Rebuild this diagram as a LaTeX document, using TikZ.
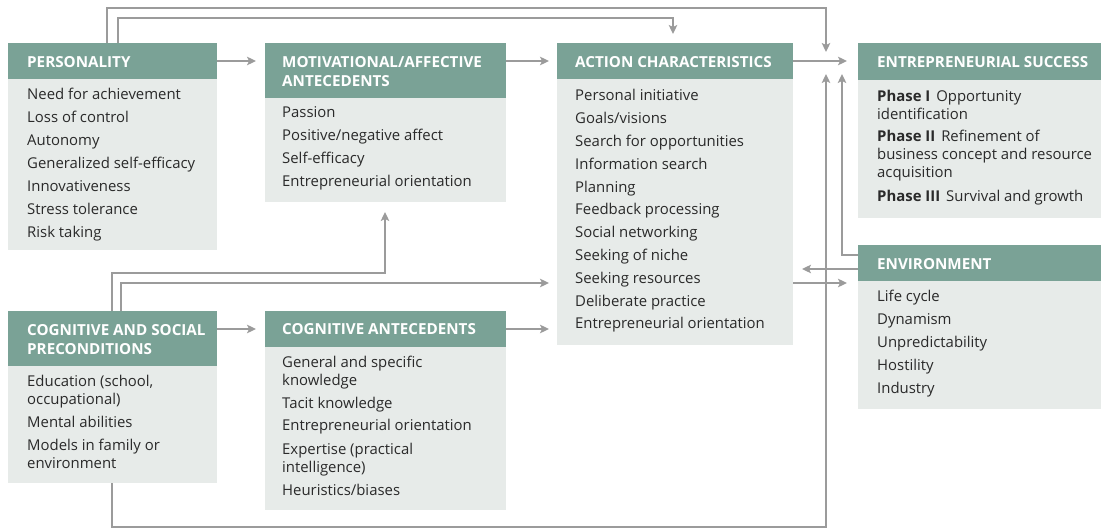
\documentclass[tikz,border=0pt]{standalone}
\usepackage{fontspec}
\setmainfont{Open Sans}
\usetikzlibrary{arrows.meta,calc}
\definecolor{headc}{HTML}{7AA296}
\definecolor{bodyc}{HTML}{E7EBE9}
\definecolor{arrc}{HTML}{9B9B9B}
\definecolor{txtc}{HTML}{2A2A2A}
\begin{document}
\begin{tikzpicture}[x=1pt,y=-1pt,
  body/.style={fill=bodyc, draw=none, inner sep=0pt, outer sep=0pt, anchor=north west},
  head/.style={fill=headc, draw=none, inner sep=0pt, outer sep=0pt, anchor=north west},
  htxt/.style={text=white, font=\fontsize{15.2}{19}\selectfont\bfseries, anchor=base west, inner sep=0pt},
  itxt/.style={text=txtc, font=\fontsize{14.9}{19}\selectfont, anchor=base west, inner sep=0pt},
  arr/.style={draw=arrc, line width=2.2pt, -{Stealth[length=9pt,width=8.5pt,inset=2pt]}},
]
\useasboundingbox (0,0) rectangle (1101,529);

% boxes
\node[body, minimum width=209pt, minimum height=171pt] (pers) at (8,79) {};
\node[head, minimum width=209pt, minimum height=36pt] (persh) at (8,43) {};
\node[body, minimum width=241pt, minimum height=104pt] (motiv) at (265,98) {};
\node[head, minimum width=241pt, minimum height=55pt] (motivh) at (265,43) {};
\node[body, minimum width=236pt, minimum height=266pt] (act) at (557,79) {};
\node[head, minimum width=236pt, minimum height=36pt] (acth) at (557,43) {};
\node[body, minimum width=243pt, minimum height=138pt] (succ) at (858,80) {};
\node[head, minimum width=243pt, minimum height=37pt] (succh) at (858,43) {};
\node[body, minimum width=243pt, minimum height=128pt] (env) at (858,281) {};
\node[head, minimum width=243pt, minimum height=36pt] (envh) at (858,245) {};
\node[body, minimum width=209pt, minimum height=117pt] (cogs) at (8,366) {};
\node[head, minimum width=209pt, minimum height=55pt] (cogsh) at (8,311) {};
\node[body, minimum width=241pt, minimum height=163pt] (coga) at (265,347) {};
\node[head, minimum width=241pt, minimum height=36pt] (cogah) at (265,311) {};

% headers
\node[htxt] (persh-t) at (27,67.5) {PERSONALITY};
\node[htxt] (motivh-t1) at (282,68) {MOTIVATIONAL/AFFECTIVE};
\node[htxt] (motivh-t2) at (282,87) {ANTECEDENTS};
\node[htxt] (acth-t) at (575,67.5) {ACTION CHARACTERISTICS};
\node[htxt] (succh-t) at (877,67.5) {ENTREPRENEURIAL SUCCESS};
\node[htxt] (envh-t) at (877,270) {ENVIRONMENT};
\node[htxt] (cogsh-t1) at (27,336) {COGNITIVE AND SOCIAL};
\node[htxt] (cogsh-t2) at (27,355) {PRECONDITIONS};
\node[htxt] (cogah-t) at (282,335) {COGNITIVE ANTECEDENTS};

% items
\foreach \t [count=\i from 0] in {Need for achievement, Loss of control, Autonomy, Generalized self-efficacy, Innovativeness, Stress tolerance, Risk taking}
  \node[itxt] (pers-t\i) at (27,{100+23*\i}) {\t};
\foreach \t [count=\i from 0] in {Passion, Positive/negative affect, Self-efficacy, Entrepreneurial orientation}
  \node[itxt] (motiv-t\i) at (282,{118+23*\i}) {\t};
\foreach \t [count=\i from 0] in {Personal initiative, Goals/visions, Search for opportunities, Information search, Planning, Feedback processing, Social networking, Seeking of niche, Seeking resources, Deliberate practice, Entrepreneurial orientation}
  \node[itxt] (act-t\i) at (575,{101+22.8*\i}) {\t};
\foreach \t/\y [count=\i] in {{\textbf{Phase I}\hspace{0.4em}Opportunity}/102, identification/120, {\textbf{Phase II}\hspace{0.4em}Refinement of}/142, {business concept and resource}/160, acquisition/178, {\textbf{Phase III}\hspace{0.4em}Survival and growth}/202}
  \node[itxt] (succ-t\i) at (877,\y) {\t};
\foreach \t [count=\i from 0] in {Life cycle, Dynamism, Unpredictability, Hostility, Industry}
  \node[itxt] (env-t\i) at (877,{302+23*\i}) {\t};
\foreach \t/\y [count=\i] in {{Education (school,}/387, occupational)/405, {Mental abilities}/428, {Models in family or}/450, environment/468}
  \node[itxt] (cogs-t\i) at (27,\y) {\t};
\foreach \t/\y [count=\i] in {{General and specific}/367, knowledge/385, {Tacit knowledge}/408, {Entrepreneurial orientation}/431, {Expertise (practical}/454, intelligence)/472, {Heuristics/biases}/495}
  \node[itxt] (coga-t\i) at (282,\y) {\t};

% connectors
\coordinate (topA) at (826,8);
\coordinate (tipA) at (826,52);
\draw[arr] ($(persh.north west)+(99,0)$) |- (topA) -- (tipA);
\coordinate (topB) at (673,18);
\coordinate (tipB) at (673,34);
\draw[arr] ($(persh.north west)+(110,0)$) |- (topB) -- (tipB);

\draw[arr, shorten >=9pt] (persh.east) -- (persh.east -| motivh.west);
\draw[arr, shorten >=8pt] (persh.east -| motivh.east) -- (persh.east -| acth.west);
\draw[arr, shorten >=11pt] (acth.east) -- (acth.east -| succh.west);

\coordinate (cC) at (385,273);
\draw[arr, shorten >=10pt] ($(cogsh.north west)+(104,0)$) |- (cC) -- (cC |- motiv.south);
\coordinate (tD) at (549,283);
\draw[arr] ($(cogsh.north west)+(113,0)$) |- (tD);

\draw[arr, shorten >=9pt] (cogah.west -| cogsh.east) -- (cogah.west);
\draw[arr, shorten >=8pt] (cogah.east) -- (cogah.east -| acth.west);

\coordinate (bl) at (826,527);
\coordinate (tipE) at (826,74);
\draw[arr] ($(cogs.south west)+(104,0)$) |- (bl) -- (tipE);

\coordinate (tipF) at (842,74);
\draw[arr] ($(envh.north west)+(0,10)$) -| (tipF);
\coordinate (eA) at ($(envh.north west)+(0,24)$);
\draw[arr, shorten >=9pt] (eA) -- (eA -| act.east);
\coordinate (eB) at ($(envh.north west)+(0,38)$);
\draw[arr, shorten >=11pt] (eB -| act.east) -- (eB);
\end{tikzpicture}
\end{document}
